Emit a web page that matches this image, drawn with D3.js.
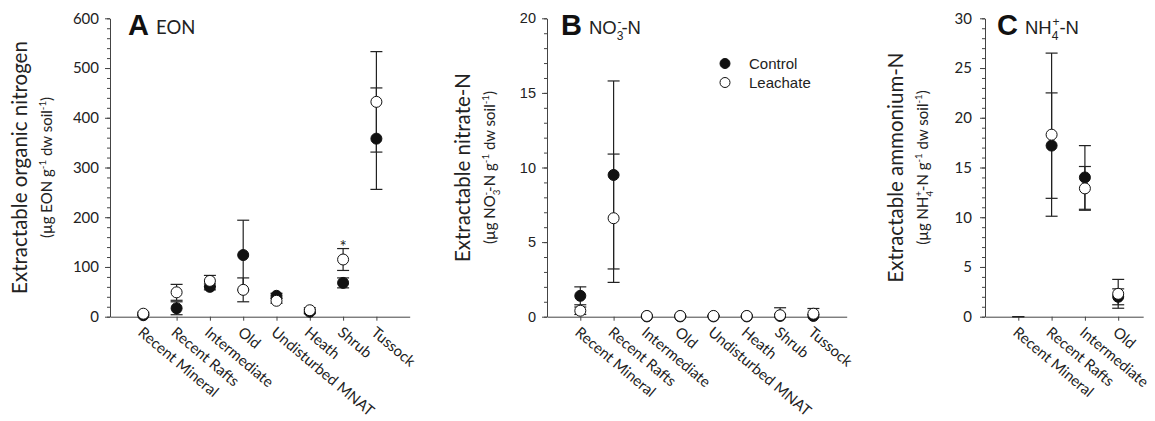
<!DOCTYPE html>
<html>
<head>
<meta charset="utf-8">
<script src="https://cdn.jsdelivr.net/npm/d3@7"></script>
<style>
  body { margin: 0; background: #fff; }
  svg { display: block; }
  .tick text { fill: #222; }
  .domain, .tick line { stroke: #444; }
</style>
</head>
<body>
<svg id="chart"></svg>
<script>
const categories = ['Recent Mineral', 'Recent Rafts', 'Intermediate', 'Old', 'Undisturbed MNAT', 'Heath', 'Shrub', 'Tussock'];

// A: extractable organic nitrogen
const eonControl = [3, 17, 60, 124, 42, 10, 68, 358];
const eonControlErr = [3, 13, 6, 70, 5, 4, 10, 102];
const eonLeachate = [6, 49, 72, 54, 32, 13, 115, 432];
const eonLeachateErr = [3, 16, 11, 24, 5, 5, 22, 101];
const eonStars = ['', '', '', '', '', '', '*', ''];
const eonTicks = [0, 100, 200, 300, 400, 500, 600];

// B: nitrate
const no3Control = [1.4, 9.5, 0.02, 0.02, 0.02, 0.02, 0.05, 0.05];
const no3ControlErr = [0.6, 6.3, 0.02, 0.02, 0.02, 0.02, 0.1, 0.1];
const no3Leachate = [0.4, 6.6, 0.05, 0.05, 0.05, 0.05, 0.1, 0.2];
const no3LeachateErr = [0.25, 4.3, 0.03, 0.03, 0.03, 0.03, 0.5, 0.35];
const no3Ticks = [0, 5, 10, 15, 20];

// C: ammonium (only first four sites shown)
const nh4Categories = categories.slice(0, 4);
const nh4Control = [null, 17.2, 14.0, 2.0];
const nh4ControlErr = [0, 5.3, 3.2, 0.8];
const nh4Leachate = [null, 18.3, 12.9, 2.3];
const nh4LeachateErr = [0, 8.2, 2.2, 1.45];
const nh4Ticks = [0, 5, 10, 15, 20, 25, 30];

const legendLabels = ['Control', 'Leachate'];

const chartSize = {width: 1155, height: 421};
const plotTop = 18.3;
const plotBottom = 316.7;
const slot = 33.3;
const mainFont = 'Lato, "Open Sans", sans-serif';
const arialFont = '"Liberation Sans", Arial, sans-serif';

const svg = d3.select('#chart')
    .attr('width', chartSize.width)
    .attr('height', chartSize.height);

const richText = (text, parts, size) => {
  let shift = 0;
  parts.forEach(([str, kind, dx]) => {
    const target = kind === 'sup' ? -0.42 * size : kind === 'sub' ? 0.3 * size : 0;
    const t = text.append('tspan').attr('dy', target - shift).text(str);
    if (kind) t.attr('font-size', size * 0.65);
    if (dx) t.attr('dx', dx);
    shift = target;
  });
};

const drawPanel = (p) => {
  const g = svg.append('g');

  const x = d3.scaleLinear()
      .domain([0, p.slots])
      .range([p.left, p.left + p.slots * slot]);

  const y = d3.scaleLinear()
      .domain([0, p.max])
      .range([plotBottom, plotTop])
      .clamp(true);

  // minor ticks
  g.append('g')
      .attr('transform', `translate(${p.left},0)`)
      .call(d3.axisLeft(y).tickValues(d3.range(0, p.max + p.minor / 2, p.minor)).tickSize(3).tickFormat(''))
      .call(a => a.select('.domain').remove());

  g.append('g')
      .attr('transform', `translate(${p.left},0)`)
      .call(d3.axisLeft(y).tickValues(p.ticks).tickSize(5).tickSizeOuter(0).tickPadding(p.tickPadding))
      .call(a => a.selectAll('text').attr('font-size', p.tickSize).attr('font-family', p.tickFont));

  const xAxis = g.append('g')
      .attr('transform', `translate(0,${plotBottom})`)
      .call(d3.axisBottom(x)
          .tickValues(p.categories.map((c, i) => i + 1))
          .tickFormat(i => p.categories[i - 1])
          .tickSize(4)
          .tickSizeOuter(0));

  xAxis.selectAll('text')
      .attr('font-size', 15)
      .attr('font-family', mainFont)
      .attr('x', 6)
      .attr('y', 7)
      .attr('dy', '0.71em')
      .attr('text-anchor', 'start')
      .attr('transform', 'rotate(40)');

  // y titles
  const yMid = (plotTop + plotBottom) / 2;
  g.append('text')
      .attr('transform', `translate(${p.titleX},${yMid}) rotate(-90)`)
      .attr('text-anchor', 'middle')
      .attr('font-family', mainFont)
      .attr('font-size', 20.5)
      .attr('fill', '#222')
      .text(p.yTitle);

  const unit = g.append('text')
      .attr('transform', `translate(${p.titleX + 25},${yMid}) rotate(-90)`)
      .attr('text-anchor', 'middle')
      .attr('font-family', mainFont)
      .attr('font-size', 15)
      .attr('fill', '#222');
  richText(unit, p.unitParts, 15);

  // panel letter and name
  g.append('text')
      .attr('x', p.letterX)
      .attr('y', 35)
      .attr('font-family', arialFont)
      .attr('font-weight', 'bold')
      .attr('font-size', 29)
      .attr('fill', '#111')
      .text(p.letter);

  const name = g.append('text')
      .attr('x', p.letterX + 28)
      .attr('y', 34)
      .attr('font-family', p.nameFont)
      .attr('font-size', 18.5)
      .attr('fill', '#222');
  richText(name, p.nameParts, 18.5);

  const series = [
    {mean: p.control, err: p.controlErr, fill: '#111'},
    {mean: p.leachate, err: p.leachateErr, fill: '#fff'}
  ];

  // error bars
  series.forEach(s => {
    const bars = g.append('g')
        .attr('stroke', '#222')
        .attr('stroke-width', 1.2);
    s.mean.forEach((m, i) => {
      const cx = x(i + 1);
      const v = m === null ? 0 : m;
      const hi = y(v + s.err[i]);
      const lo = y(v - s.err[i]);
      bars.append('line').attr('x1', cx).attr('x2', cx).attr('y1', hi).attr('y2', lo);
      bars.append('line').attr('x1', cx - 6).attr('x2', cx + 6).attr('y1', hi).attr('y2', hi);
      if (v - s.err[i] > 0) {
        bars.append('line').attr('x1', cx - 6).attr('x2', cx + 6).attr('y1', lo).attr('y2', lo);
      }
    });
  });

  // points
  series.forEach(s => {
    g.append('g')
        .selectAll('circle')
        .data(s.mean.map((m, i) => ({m, i})).filter(d => d.m !== null))
        .join('circle')
        .attr('cx', d => x(d.i + 1))
        .attr('cy', d => y(d.m))
        .attr('r', 5.5)
        .attr('fill', s.fill)
        .attr('stroke', '#111')
        .attr('stroke-width', 1);
  });

  if (p.stars) {
    p.stars.forEach((s, i) => {
      if (!s) return;
      g.append('text')
          .attr('x', x(i + 1))
          .attr('y', y(p.leachate[i] + p.leachateErr[i]) + 4)
          .attr('text-anchor', 'middle')
          .attr('font-family', mainFont)
          .attr('font-size', 17)
          .attr('fill', '#222')
          .text(s);
    });
  }
  return {x, y};
};

drawPanel({
  left: 110, slots: 9, max: 600, minor: 20, ticks: eonTicks, tickPadding: 6,
  tickSize: 15, tickFont: mainFont,
  categories: categories,
  control: eonControl, controlErr: eonControlErr,
  leachate: eonLeachate, leachateErr: eonLeachateErr, stars: eonStars,
  titleX: 27, yTitle: 'Extractable organic nitrogen',
  unitParts: [['(\u00b5g EON g'], ['-1', 'sup'], [' dw soil'], ['-1', 'sup'], [')']],
  letter: 'A', letterX: 128, nameFont: mainFont, nameParts: [['EON']]
});

drawPanel({
  left: 547, slots: 9, max: 20, minor: 1, ticks: no3Ticks, tickPadding: 6,
  tickSize: 14.5, tickFont: arialFont,
  categories: categories,
  control: no3Control, controlErr: no3ControlErr,
  leachate: no3Leachate, leachateErr: no3LeachateErr,
  titleX: 470, yTitle: 'Extractable nitrate-N',
  unitParts: [['(\u00b5g NO'], ['3', 'sub'], ['-', 'sup', -6], ['-N g'], ['-1', 'sup'], [' dw soil'], ['-1', 'sup'], [')']],
  letter: 'B', letterX: 561, nameFont: arialFont,
  nameParts: [['NO'], ['3', 'sub'], ['-', 'sup', -6], ['-N']]
});

drawPanel({
  left: 985, slots: 4.75, max: 30, minor: 1, ticks: nh4Ticks, tickPadding: 8,
  tickSize: 15, tickFont: mainFont,
  categories: nh4Categories,
  control: nh4Control, controlErr: nh4ControlErr,
  leachate: nh4Leachate, leachateErr: nh4LeachateErr,
  titleX: 903, yTitle: 'Extractable ammonium-N',
  unitParts: [['(\u00b5g NH'], ['4', 'sub'], ['+', 'sup', -6], ['-N g'], ['-1', 'sup'], [' dw soil'], ['-1', 'sup'], [')']],
  letter: 'C', letterX: 997, nameFont: arialFont,
  nameParts: [['NH'], ['4', 'sub'], ['+', 'sup', -6], ['-N']]
});

// legend in panel B
const legend = svg.append('g')
    .selectAll('g')
    .data(legendLabels)
    .join('g')
    .attr('transform', (d, i) => `translate(725,${63.5 + i * 19})`);

legend.append('circle')
    .attr('r', 5)
    .attr('fill', (d, i) => i === 0 ? '#111' : '#fff')
    .attr('stroke', '#111');

legend.append('text')
    .attr('x', 24)
    .attr('y', 5.5)
    .attr('font-family', arialFont)
    .attr('font-size', 15)
    .attr('fill', '#222')
    .text(d => d);
</script>
</body>
</html>
